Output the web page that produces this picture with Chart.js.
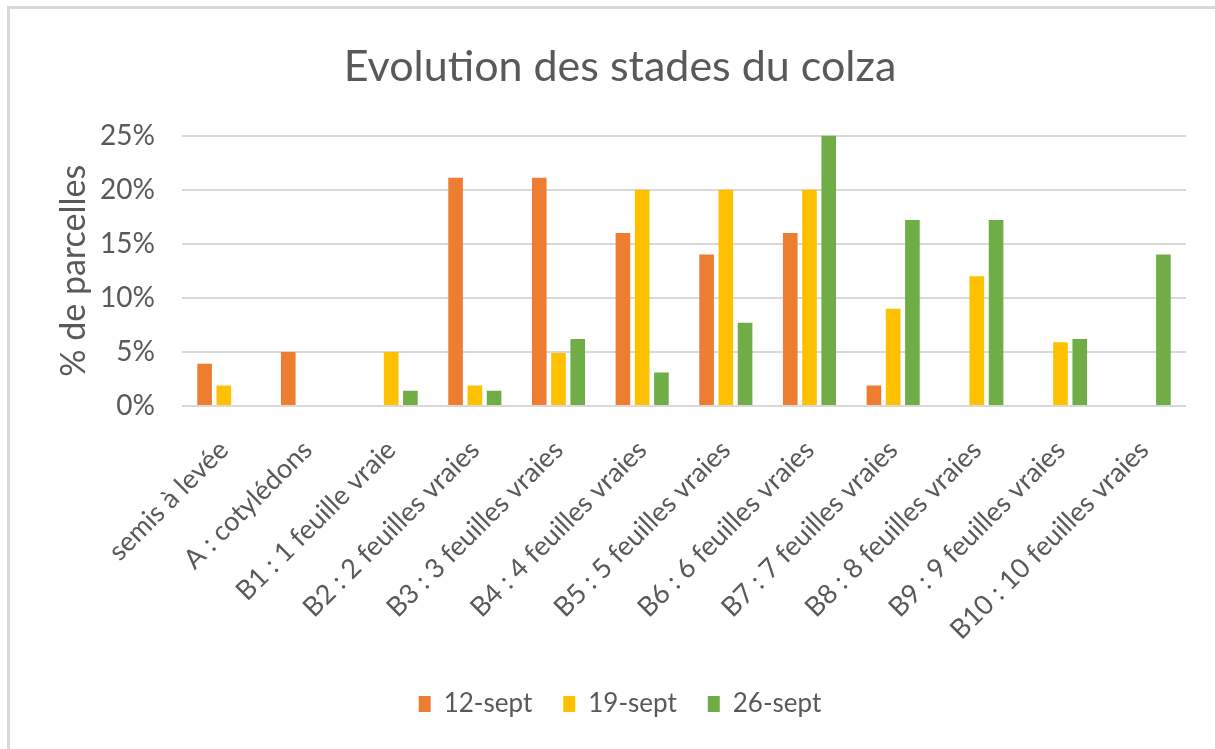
<!DOCTYPE html>
<html lang="fr">
<head>
<meta charset="utf-8">
<title>Evolution des stades du colza</title>
<script src="https://cdn.jsdelivr.net/npm/chart.js@4.4.1/dist/chart.umd.min.js"></script>
<style>
  html, body { margin: 0; padding: 0; background: #fff; }
  #cadre {
    position: absolute; left: 7px; top: 6px; width: 1208px; height: 743px;
    border-top: 3px solid #d9d9d9; border-left: 3px solid #d9d9d9;
    box-sizing: border-box;
  }
  #zone { position: absolute; left: 0; top: 0; width: 1215px; height: 749px; }
</style>
</head>
<body>
<div id="cadre"></div>
<div id="zone"><canvas id="chartStades"></canvas></div>
<script>
// stades du colza (axe X)
const stades = [
  "semis à levée",
  "A : cotylédons",
  "B1 : 1 feuille vraie",
  "B2 : 2 feuilles vraies",
  "B3 : 3 feuilles vraies",
  "B4 : 4 feuilles vraies",
  "B5 : 5 feuilles vraies",
  "B6 : 6 feuilles vraies",
  "B7 : 7 feuilles vraies",
  "B8 : 8 feuilles vraies",
  "B9 : 9 feuilles vraies",
  "B10 : 10 feuilles vraies"
];

// % de parcelles par date d'observation
const sept12 = [3.9, 5, 0, 21.1, 21.1, 16, 14, 16, 1.9, 0, 0, 0];
const sept19 = [1.9, 0, 5, 1.9, 4.9, 20, 20, 20, 9, 12, 5.9, 0];
const sept26 = [0, 0, 1.4, 1.4, 6.2, 3.1, 7.7, 25, 17.2, 17.2, 6.2, 14];

const yTicks = [0, 5, 10, 15, 20, 25];

const GRIS = "#595959";
const POLICE = "Lato, 'Open Sans', sans-serif";

/* ===========================================
              GRAPHIQUE EN BARRES
=========================================== */
function renderGraphique() {
  const ctx = document.getElementById("chartStades");

  new Chart(ctx, {
    type: "bar",
    data: {
      labels: stades,
      datasets: [
        { label: "12-sept", data: sept12, backgroundColor: "#ED7D31" },
        { label: "19-sept", data: sept19, backgroundColor: "#FFC000" },
        { label: "26-sept", data: sept26, backgroundColor: "#70AD47" }
      ]
    },
    options: {
      responsive: true,
      maintainAspectRatio: false,
      animation: false,
      categoryPercentage: 0.69,
      barPercentage: 0.76,
      layout: { padding: { left: 54, right: 29, top: 0, bottom: 22 } },
      plugins: {
        tooltip: { enabled: false },
        title: {
          display: true,
          text: "Evolution des stades du colza",
          color: GRIS,
          font: { family: POLICE, size: 43, weight: "normal" },
          padding: { top: 41, bottom: 43 }
        },
        legend: {
          position: "bottom",
          labels: {
            color: GRIS,
            font: { family: POLICE, size: 26 },
            boxWidth: 12,
            boxHeight: 16,
            padding: 31
          }
        }
      },
      scales: {
        x: {
          grid: { display: false },
          border: { display: false },
          ticks: {
            color: GRIS,
            font: { family: POLICE, size: 27 },
            maxRotation: 45,
            minRotation: 45,
            autoSkip: false,
            padding: 20
          },
          afterFit: s => { s.height = 254; }
        },
        y: {
          min: 0,
          max: 25,
          border: { display: false },
          grid: { color: "#d9d9d9", lineWidth: 2, drawTicks: false },
          afterBuildTicks: s => { s.ticks = yTicks.map(v => ({ value: v })); },
          ticks: {
            color: GRIS,
            font: { family: POLICE, size: 28 },
            padding: 27,
            callback: v => v + "%"
          },
          title: {
            display: true,
            text: "% de parcelles",
            color: GRIS,
            font: { family: POLICE, size: 34 },
            padding: { top: 0, bottom: 0 }
          },
          afterFit: s => { s.width = 128; }
        }
      }
    }
  });
}

renderGraphique();
</script>
</body>
</html>
